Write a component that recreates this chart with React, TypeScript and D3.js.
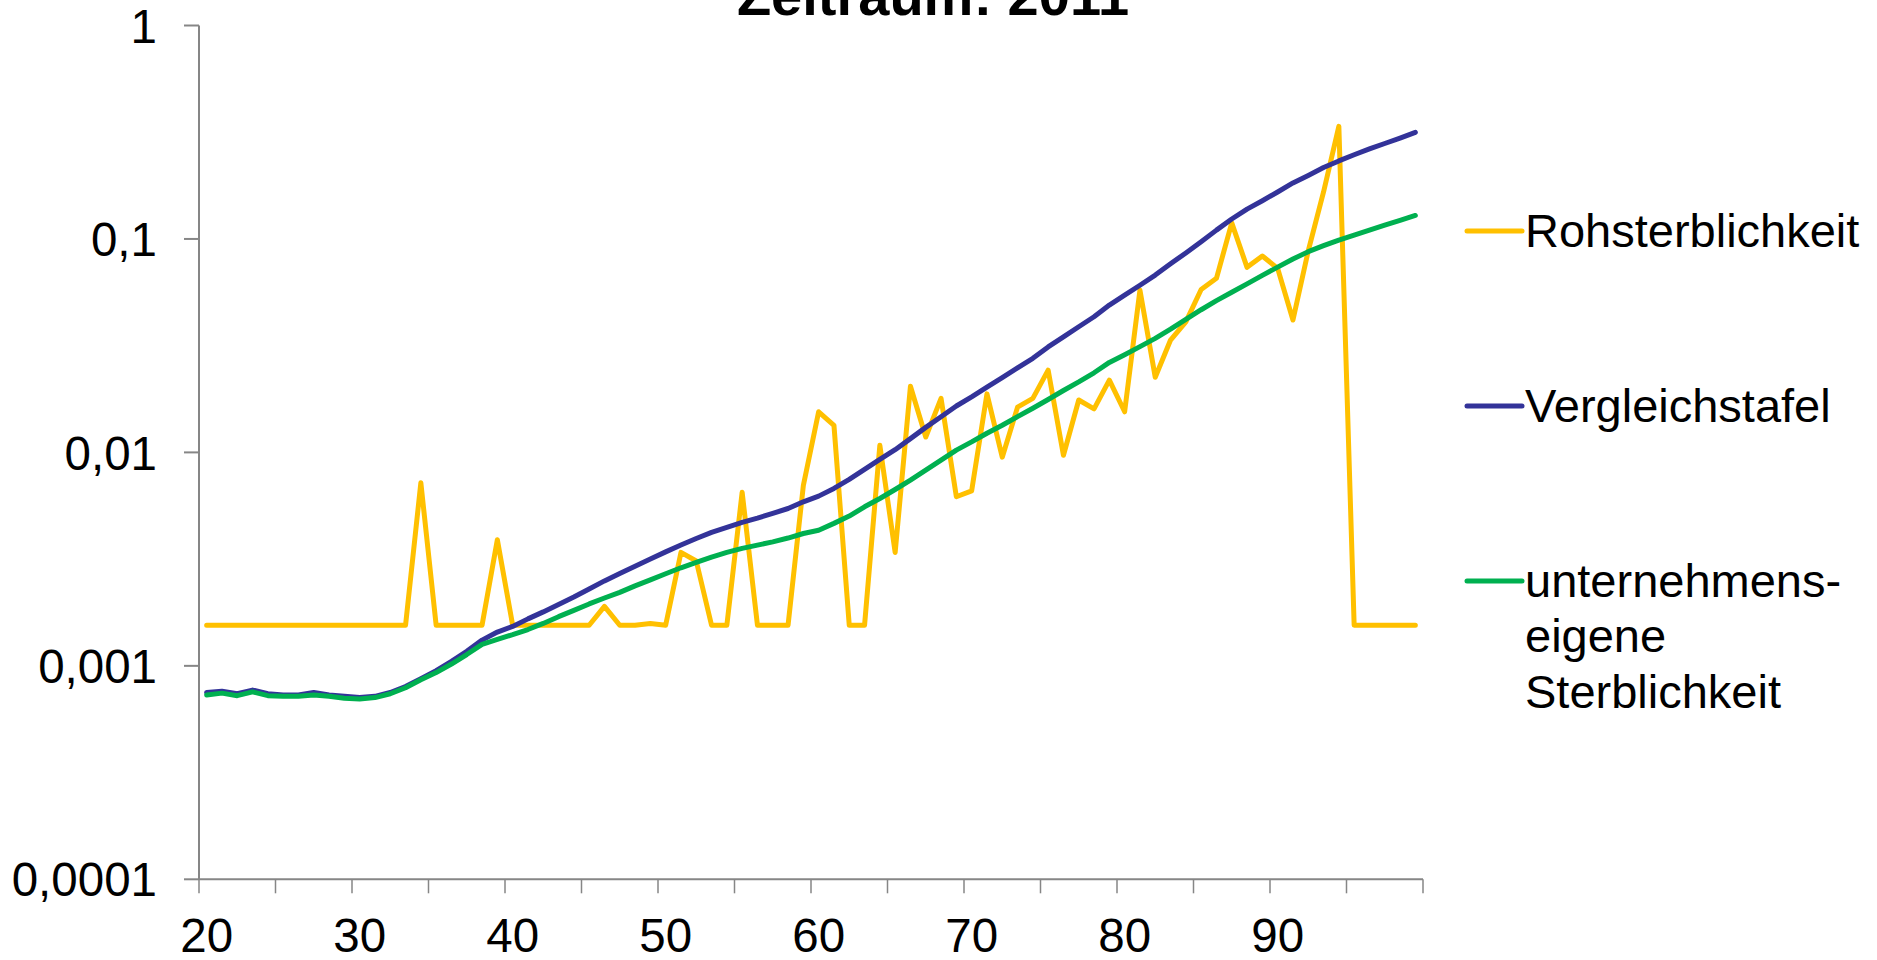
import React from "react";
import * as d3 from "d3";

// ages 20..99 on a category axis
const ages: number[] = d3.range(20, 100);

const rohsterblichkeit = [
  0.00155, 0.00155, 0.00155, 0.00155, 0.00155, 0.00155, 0.00155, 0.00155, 0.00155, 0.00155,
  0.00155, 0.00155, 0.00155, 0.00155, 0.0072, 0.00155, 0.00155, 0.00155, 0.00155, 0.0039,
  0.00155, 0.00155, 0.00155, 0.00155, 0.00155, 0.00155, 0.0019, 0.00155, 0.00155, 0.00158,
  0.00155, 0.0034, 0.0031, 0.00155, 0.00155, 0.0065, 0.00155, 0.00155, 0.00155, 0.007,
  0.0155, 0.0134, 0.00155, 0.00155, 0.0108, 0.0034, 0.0204, 0.0118, 0.0179, 0.0062,
  0.0066, 0.0188, 0.0095, 0.0163, 0.0179, 0.0243, 0.0097, 0.0176, 0.016, 0.0218,
  0.0155, 0.0576, 0.0225, 0.0336, 0.0409, 0.058, 0.0654, 0.119, 0.0736, 0.0832,
  0.0728, 0.0417, 0.088, 0.166, 0.337, 0.00155, 0.00155, 0.00155, 0.00155, 0.00155,
];

const vergleichstafel = [
  0.00075, 0.00076, 0.00074, 0.00077, 0.00074, 0.00073, 0.00073, 0.00075, 0.00073, 0.00072,
  0.00071, 0.00072, 0.00075, 0.0008, 0.00087, 0.00095, 0.00105, 0.00117, 0.00132, 0.00144,
  0.00153, 0.00166, 0.00179, 0.00194, 0.0021, 0.00229, 0.0025, 0.00271, 0.00293, 0.00317,
  0.00342, 0.00368, 0.00395, 0.00422, 0.00445, 0.0047, 0.00492, 0.00518, 0.00546, 0.00587,
  0.00624, 0.00678, 0.00747, 0.00832, 0.00927, 0.0103, 0.0116, 0.0131, 0.0147, 0.0165,
  0.0182, 0.0202, 0.0224, 0.0249, 0.0276, 0.0312, 0.0348, 0.0388, 0.0432, 0.049,
  0.0545, 0.0607, 0.0677, 0.0765, 0.086, 0.097, 0.11, 0.124, 0.138, 0.151,
  0.166, 0.183, 0.1985, 0.216, 0.232, 0.248, 0.264, 0.28, 0.297, 0.316,
];

const eigene = [
  0.00073, 0.000745, 0.000725, 0.000755, 0.000725, 0.00072, 0.00072, 0.00073, 0.00072, 0.000705,
  0.0007, 0.00071, 0.00074, 0.00079, 0.00086, 0.00093, 0.00102, 0.00113, 0.00126, 0.00133,
  0.0014, 0.00148, 0.00158, 0.0017, 0.00182, 0.00195, 0.00208, 0.00221, 0.00237, 0.00253,
  0.0027, 0.00288, 0.00305, 0.00323, 0.0034, 0.00355, 0.00368, 0.00381, 0.00397, 0.00417,
  0.00432, 0.00465, 0.00503, 0.00556, 0.00608, 0.0067, 0.00742, 0.00826, 0.0092, 0.01025,
  0.0112, 0.0123, 0.0134, 0.0147, 0.0161, 0.0177, 0.0195, 0.0214, 0.0236, 0.0264,
  0.0287, 0.0313, 0.0342, 0.0378, 0.042, 0.0466, 0.0514, 0.0563, 0.0616, 0.0675,
  0.0738, 0.0805, 0.0872, 0.093, 0.0988, 0.1043, 0.11, 0.116, 0.1222, 0.1288,
];

const yTickValues = [1, 0.1, 0.01, 0.001, 0.0001];
const yTickLabels = ["1", "0,1", "0,01", "0,001", "0,0001"];
const xLabelAges = [20, 30, 40, 50, 60, 70, 80, 90];
const xTickAges = [20, 25, 30, 35, 40, 45, 50, 55, 60, 65, 70, 75, 80, 85, 90, 95];

const series = [
  { name: ["Rohsterblichkeit"], values: rohsterblichkeit, color: "#FFC000", legendY: 231 },
  { name: ["Vergleichstafel"], values: vergleichstafel, color: "#333399", legendY: 406 },
  { name: ["unternehmens-", "eigene", "Sterblichkeit"], values: eigene, color: "#00B050", legendY: 581 },
];

const font = "'Liberation Sans', Arial, sans-serif";
const axisColor = "#868686";

export default function App() {
  const W = 1877;
  const H = 960;
  const x = d3.scaleBand<number>().domain(ages).range([199, 1423]).padding(0);
  const y = d3.scaleLog().domain([0.0001, 1]).range([879.3, 25.5]);
  const cx = (a: number) => (x(a) as number) + x.bandwidth() / 2;
  const line = d3
    .line<number>()
    .x((_, i) => cx(ages[i]))
    .y((d) => y(d));

  const [x0, x1] = x.range();
  const yBottom = y(0.0001);
  const yTop = y(1);

  return (
    <svg
      width={W}
      height={H}
      style={{ position: "absolute", left: 0, top: 0, background: "#fff" }}
      fontFamily={font}
    >
      <text x={933} y={15} textAnchor="middle" fontSize={56} fontWeight="bold" fill="#000">
        Zeitraum: 2011
      </text>

      {/* y axis */}
      <line x1={x0} x2={x0} y1={yTop} y2={yBottom} stroke={axisColor} strokeWidth={2} />
      {yTickValues.map((v, i) => (
        <g key={v}>
          <line x1={x0 - 15} x2={x0} y1={y(v)} y2={y(v)} stroke={axisColor} strokeWidth={2} />
          <text x={157} y={y(v)} dy="0.36em" textAnchor="end" fontSize={47.5} fill="#000">
            {yTickLabels[i]}
          </text>
        </g>
      ))}

      {/* x axis */}
      <line x1={x0} x2={x1} y1={yBottom} y2={yBottom} stroke={axisColor} strokeWidth={2} />
      {xTickAges.map((a) => (
        <line key={a} x1={x(a)} x2={x(a)} y1={yBottom} y2={yBottom + 14} stroke={axisColor} strokeWidth={1.5} />
      ))}
      <line x1={x1} x2={x1} y1={yBottom} y2={yBottom + 14} stroke={axisColor} strokeWidth={1.5} />
      {xLabelAges.map((a) => (
        <text key={a} x={cx(a)} y={952} textAnchor="middle" fontSize={47.5} fill="#000">
          {a}
        </text>
      ))}

      {/* series */}
      {series.map((s) => (
        <path
          key={s.color}
          d={line(s.values) as string}
          fill="none"
          stroke={s.color}
          strokeWidth={5}
          strokeLinejoin="round"
          strokeLinecap="round"
        />
      ))}

      {/* legend */}
      {series.map((s) => (
        <g key={"leg" + s.color}>
          <line x1={1467} x2={1522} y1={s.legendY} y2={s.legendY} stroke={s.color} strokeWidth={5} strokeLinecap="round" />
          {s.name.map((t, j) => (
            <text key={t} x={1525} y={s.legendY + 16 + j * 55.4} fontSize={47} fill="#000">
              {t}
            </text>
          ))}
        </g>
      ))}
    </svg>
  );
}
